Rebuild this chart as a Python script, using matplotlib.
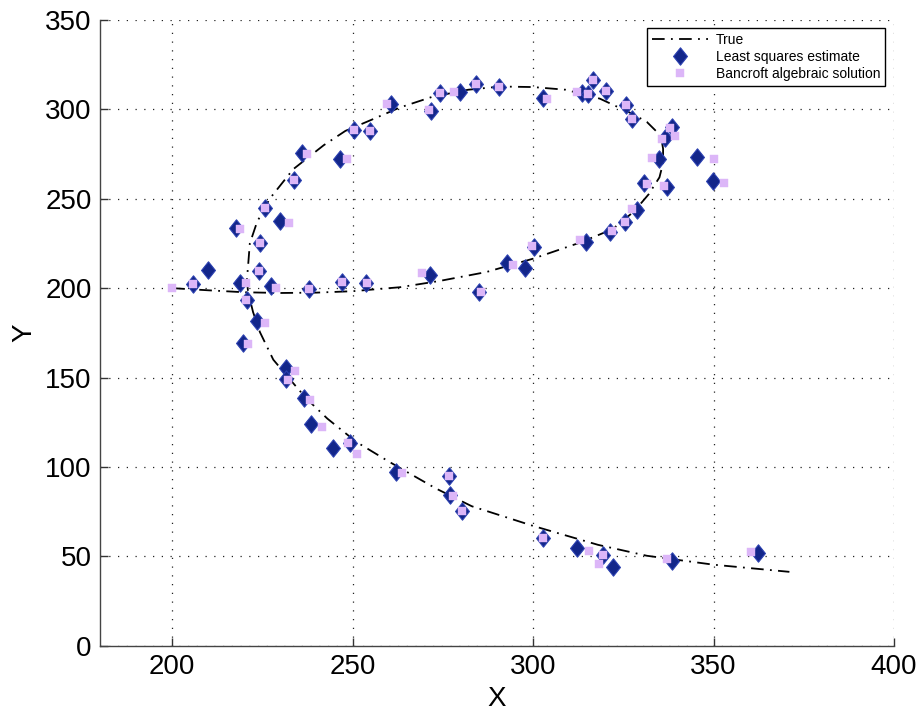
import matplotlib
matplotlib.use("Agg")
import matplotlib.pyplot as plt
from matplotlib.path import Path
import numpy as np

plt.rcParams['font.family'] = ['Liberation Sans', 'DejaVu Sans']

# True trajectory
true_x = [200, 210, 220, 230, 240, 250, 263, 274, 287, 300, 313, 322, 328, 332, 335, 336, 336,
          335.5, 334, 331.5, 327, 318.5, 309, 300, 291, 282, 272, 263, 255, 248, 242, 233.5,
          227, 223.5, 221.5, 221, 220.7, 221, 222.4, 224.3, 228, 232.6, 237.3, 243, 251, 260,
          273, 283, 300, 318, 331.5, 350, 371]
true_y = [200, 198.8, 197.7, 197.3, 197.5, 198.3, 200.5, 204, 209, 216.5, 225.5, 233, 243, 252.5,
          262, 270, 278, 284, 288, 293, 298, 306, 311, 312.5, 312.8, 311, 307, 301, 294, 288,
          280, 266.5, 250, 237, 225, 212, 205, 198, 186.6, 175.4, 160, 149, 138, 127, 114, 103,
          88, 78, 67, 56.4, 50.3, 45.3, 41.3]

# Least squares estimates
ls_x = [205.7, 209.9, 217.6, 218.7, 220.7, 219.6, 223.5, 224.3, 224.0, 225.7, 227.3, 229.8,
        231.5, 231.5, 233.7, 235.9, 236.5, 237.9, 238.4, 244.5, 246.5, 247.0, 249.2, 250.3,
        253.6, 254.8, 260.6, 262.0, 271.7, 271.4, 274.2, 276.6, 276.9, 279.7, 280.3, 284.1,
        285.0, 290.5, 292.7, 297.7, 300.2, 302.7, 302.7, 312.1, 314.6, 313.5, 315.2, 316.5,
        320.1, 319.3, 322.1, 321.3, 325.4, 325.7, 327.3, 328.7, 330.6, 334.8, 338.4, 336.4,
        337.0, 338.4, 345.3, 349.7, 362.2]
ls_y = [202.3, 210.2, 233.6, 202.8, 193.3, 169.3, 181.5, 225.2, 209.5, 244.8, 201.2, 237.5,
        155.3, 149.2, 260.4, 275.5, 138.5, 199.5, 124.1, 110.6, 272.2, 203.4, 113.4, 288.4,
        202.8, 287.9, 302.9, 97.1, 299.1, 207.3, 309.2, 95.0, 84.3, 309.7, 75.4, 314.1,
        197.8, 312.5, 214.1, 211.3, 223.0, 306.3, 60.2, 54.6, 225.8, 309.1, 308.6, 316.4,
        310.3, 50.7, 44.0, 231.4, 237.0, 302.4, 294.6, 243.7, 258.8, 272.2, 290.1, 283.9,
        256.6, 47.4, 273.3, 259.9, 51.8]

# Bancroft algebraic solutions
bc_x = [200.0, 205.7, 218.8, 220.4, 220.4, 221.0, 225.7, 224.3, 224.0, 225.7, 228.7, 232.3,
        234.0, 232.0, 233.7, 237.3, 238.1, 237.9, 241.5, 248.4, 247.0, 248.7, 251.2, 250.3,
        253.9, 254.8, 259.5, 263.6, 271.1, 269.2, 274.2, 276.6, 277.7, 278.0, 280.3, 284.1,
        285.5, 290.5, 294.4, 299.6, 303.8, 302.7, 315.4, 312.9, 312.1, 315.2, 316.5, 320.1,
        319.3, 318.2, 321.8, 325.4, 325.7, 327.3, 327.3, 331.5, 332.9, 335.7, 337.9, 339.3,
        336.2, 337.0, 350.1, 352.8, 360.5]
bc_y = [200.1, 202.3, 233.0, 202.8, 193.3, 168.8, 180.5, 225.2, 209.5, 244.8, 200.0, 236.4,
        153.6, 148.6, 260.4, 275.0, 137.5, 199.5, 122.4, 272.2, 203.4, 113.4, 107.2, 288.4,
        202.8, 287.9, 302.9, 96.6, 299.6, 208.3, 309.2, 95.0, 83.8, 309.7, 75.4, 314.1,
        197.8, 312.5, 212.9, 223.6, 305.7, 60.2, 53.0, 226.9, 309.7, 308.6, 316.4, 310.3,
        50.7, 45.7, 232.0, 237.0, 302.4, 294.6, 244.2, 258.2, 272.8, 283.4, 289.5, 285.0,
        257.1, 48.5, 272.2, 258.8, 52.4]

x_ticks = [200, 250, 300, 350, 400]
y_ticks = [0, 50, 100, 150, 200, 250, 300, 350]

fig = plt.figure(figsize=(9.22, 7.10), dpi=100)
ax = fig.add_axes([0.1085, 0.0906, 0.8612, 0.8812])

diamond = Path([(0, 1), (0.8, 0), (0, -1), (-0.8, 0), (0, 1)],
               [Path.MOVETO, Path.LINETO, Path.LINETO, Path.LINETO, Path.CLOSEPOLY])

ax.plot(true_x, true_y, color='black', linewidth=1.3, linestyle=(0, (7, 3.5, 1, 3.5)),
        label='True', zorder=2)
ax.plot(ls_x, ls_y, linestyle='none', marker=diamond, markersize=12.5,
        markerfacecolor='#13268a', markeredgecolor='#2a3fb0', markeredgewidth=0.8,
        label='Least squares estimate', zorder=3)
ax.plot(bc_x, bc_y, linestyle='none', marker='s', markersize=5.5,
        markerfacecolor='#dcb6f8', markeredgecolor='#dcb6f8', markeredgewidth=0.3,
        label='Bancroft algebraic solution', zorder=4)

ax.set_xlim(180, 400)
ax.set_ylim(0, 350)
ax.set_xticks(x_ticks)
ax.set_yticks(y_ticks)
ax.tick_params(direction='in', labelsize=20, length=6, width=1, color='#333333', pad=6)
ax.grid(True, color='#222222', linestyle=(0, (1, 6)), linewidth=0.9)
ax.set_axisbelow(True)
for s in ['top', 'right']:
    ax.spines[s].set_visible(False)
for s in ['left', 'bottom']:
    ax.spines[s].set_color('#444444')
    ax.spines[s].set_linewidth(1.0)

ax.set_xlabel('X', fontsize=20, labelpad=4)
ax.set_ylabel('Y', fontsize=20, labelpad=6)

leg = ax.legend(loc='upper right', bbox_to_anchor=(0.989, 0.987), fontsize=10,
                frameon=True, fancybox=False, edgecolor='black', framealpha=1,
                handlelength=4.0, handletextpad=0.6, labelspacing=0.22,
                borderpad=0.35, borderaxespad=0)
leg.get_frame().set_linewidth(1.0)

fig.savefig('out.png', dpi=100)
